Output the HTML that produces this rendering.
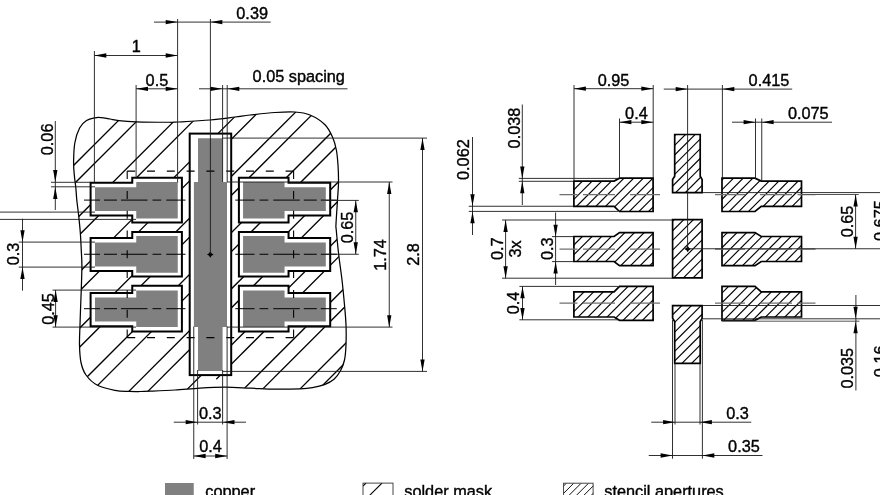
<!DOCTYPE html>
<html lang="en"><head><meta charset="utf-8"><title>Footprint: copper, solder mask, stencil apertures</title>
<style>html,body{margin:0;padding:0;background:#fff}body{width:880px;height:495px;overflow:hidden}svg{display:block}text{font-family:'Liberation Sans', sans-serif;font-size:16.3px;fill:#000;stroke:#000;stroke-width:0.4px}</style></head><body>
<svg width="880" height="495" viewBox="0 0 880 495" role="img" aria-label="Footprint drawing: copper, solder mask and stencil apertures">
<rect width="880" height="495" fill="#fff"/>
<defs><clipPath id="blob"><path d="M73.6,162C73.68,156.67 73.8,148.67 74.8,143C75.8,137.33 77.65,131.73 79.6,128C81.55,124.27 83.93,122.3 86.5,120.6C89.07,118.9 92.58,118.3 95,117.8C97.42,117.3 98.5,117.4 101,117.6C103.5,117.8 107.04,118.5 110,119C112.96,119.5 114.38,120.13 118.75,120.6C123.12,121.07 127.92,121.52 136.25,121.8C144.58,122.08 161.88,122.22 168.75,122.25C175.62,122.28 170.62,122.38 177.5,122C184.38,121.62 200.42,120.83 210,120C219.58,119.17 228.33,117.83 235,117C241.67,116.17 243.33,115.75 250,115C256.67,114.25 267.5,113 275,112.5C282.5,112 289.17,111.58 295,112C300.83,112.42 305,112.88 310,115C315,117.12 321.22,120.95 325,124.7C328.78,128.45 330.81,133.28 332.7,137.5C334.59,141.72 335.47,145.42 336.35,150C337.23,154.58 337.64,159.58 338,165C338.36,170.42 338.58,176.67 338.5,182.5C338.42,188.33 337.92,193.08 337.5,200C337.08,206.92 336.21,219 336,224C335.79,229 335.79,224.83 336.25,230C336.71,235.17 337.79,246.67 338.75,255C339.71,263.33 341.04,271.67 342,280C342.96,288.33 343.83,297.5 344.5,305C345.17,312.5 345.75,318.33 346,325C346.25,331.67 346.25,339.17 346,345C345.75,350.83 345.4,355.75 344.5,360C343.6,364.25 342.35,367.28 340.6,370.5C338.85,373.72 336.68,376.95 334,379.3C331.32,381.65 328.08,383.22 324.5,384.6C320.92,385.98 316.58,386.9 312.5,387.6C308.42,388.3 306.25,388.53 300,388.8C293.75,389.07 283.33,389.32 275,389.2C266.67,389.08 258.33,388.43 250,388.1C241.67,387.77 233.33,387.2 225,387.2C216.67,387.2 208.33,387.63 200,388.1C191.67,388.57 183.33,389.48 175,390C166.67,390.52 155.83,390.95 150,391.2C144.17,391.45 143.5,391.47 140,391.5C136.5,391.53 133.17,391.6 129,391.4C124.83,391.2 120.25,391.32 115,390.3C109.75,389.28 102.33,387.85 97.5,385.3C92.67,382.75 88.75,378.8 86,375C83.25,371.2 82.08,367.5 81,362.5C79.92,357.5 79.67,351.25 79.5,345C79.33,338.75 79.83,330.83 80,325C80.17,319.17 80.29,315.83 80.5,310C80.71,304.17 81.02,297.33 81.25,290C81.48,282.67 81.9,272.67 81.9,266C81.9,259.33 81.52,255.58 81.25,250C80.98,244.42 80.74,238.33 80.3,232.5C79.86,226.67 79.18,220.42 78.6,215C78.02,209.58 77.27,204.58 76.8,200C76.33,195.42 76.22,191.67 75.8,187.5C75.38,183.33 74.67,179.25 74.3,175C73.93,170.75 73.52,167.33 73.6,162Z"/></clipPath>
<clipPath id="s0"><polygon points="722,178.2 755,178.2 761.25,181.1 801.5,181.1 801.5,206.4 761.25,206.4 755,211.5 722,211.5"/></clipPath>
<clipPath id="s1"><polygon points="653.1,178.2 619.5,178.2 614.1,181.1 573.9,181.1 573.9,206.4 614.1,206.4 619.5,211.5 653.1,211.5"/></clipPath>
<clipPath id="s2"><polygon points="722,232.6 755,232.6 761.25,236.5 801.5,236.5 801.5,261.5 761.25,261.5 755,265.6 722,265.6"/></clipPath>
<clipPath id="s3"><polygon points="653.1,232.6 619.5,232.6 614.1,236.5 573.9,236.5 573.9,261.5 614.1,261.5 619.5,265.6 653.1,265.6"/></clipPath>
<clipPath id="s4"><polygon points="722,286.3 755,286.3 761.25,291.8 801.5,291.8 801.5,317 761.25,317 755,320.3 722,320.3"/></clipPath>
<clipPath id="s5"><polygon points="653.1,286.3 619.5,286.3 614.1,291.8 573.9,291.8 573.9,317 614.1,317 619.5,320.3 653.1,320.3"/></clipPath>
<clipPath id="s6"><polygon points="674.7,134.5 700.2,134.5 700.2,176.3 702.1,179.4 702.1,192.7 672.6,192.7 672.6,179.4 674.7,176.3"/></clipPath>
<clipPath id="s7"><polygon points="672.6,219.7 702.1,219.7 702.1,277.8 672.6,277.8"/></clipPath>
<clipPath id="s8"><polygon points="672.6,305.6 702.1,305.6 702.1,318.3 700.2,321.6 700.2,363.4 674.7,363.4 674.7,321.6 672.6,318.3"/></clipPath>
<clipPath id="lg"><rect x="563.75" y="483.6" width="29.5" height="14"/></clipPath>
<clipPath id="lg2"><rect x="363" y="483" width="30" height="14"/></clipPath>
</defs>
<g clip-path="url(#blob)" stroke="#000" stroke-width="1.25" fill="none">
<line x1="26.5" y1="100" x2="-273.5" y2="400"/>
<line x1="45.5" y1="100" x2="-254.5" y2="400"/>
<line x1="82.75" y1="100" x2="-217.25" y2="400"/>
<line x1="101.75" y1="100" x2="-198.25" y2="400"/>
<line x1="139" y1="100" x2="-161" y2="400"/>
<line x1="158" y1="100" x2="-142" y2="400"/>
<line x1="195.25" y1="100" x2="-104.75" y2="400"/>
<line x1="214.25" y1="100" x2="-85.75" y2="400"/>
<line x1="251.5" y1="100" x2="-48.5" y2="400"/>
<line x1="270.5" y1="100" x2="-29.5" y2="400"/>
<line x1="307.75" y1="100" x2="7.75" y2="400"/>
<line x1="326.75" y1="100" x2="26.75" y2="400"/>
<line x1="364" y1="100" x2="64" y2="400"/>
<line x1="383" y1="100" x2="83" y2="400"/>
<line x1="420.25" y1="100" x2="120.25" y2="400"/>
<line x1="439.25" y1="100" x2="139.25" y2="400"/>
<line x1="476.5" y1="100" x2="176.5" y2="400"/>
<line x1="495.5" y1="100" x2="195.5" y2="400"/>
<line x1="532.75" y1="100" x2="232.75" y2="400"/>
<line x1="551.75" y1="100" x2="251.75" y2="400"/>
<line x1="589" y1="100" x2="289" y2="400"/>
<line x1="608" y1="100" x2="308" y2="400"/>
<line x1="645.25" y1="100" x2="345.25" y2="400"/>
<line x1="664.25" y1="100" x2="364.25" y2="400"/>
</g>
<g clip-path="url(#blob)"><line x1="216.2" y1="379.05" x2="205" y2="390.25" stroke="#fff" stroke-width="4"/></g>
<path d="M73.6,162C73.68,156.67 73.8,148.67 74.8,143C75.8,137.33 77.65,131.73 79.6,128C81.55,124.27 83.93,122.3 86.5,120.6C89.07,118.9 92.58,118.3 95,117.8C97.42,117.3 98.5,117.4 101,117.6C103.5,117.8 107.04,118.5 110,119C112.96,119.5 114.38,120.13 118.75,120.6C123.12,121.07 127.92,121.52 136.25,121.8C144.58,122.08 161.88,122.22 168.75,122.25C175.62,122.28 170.62,122.38 177.5,122C184.38,121.62 200.42,120.83 210,120C219.58,119.17 228.33,117.83 235,117C241.67,116.17 243.33,115.75 250,115C256.67,114.25 267.5,113 275,112.5C282.5,112 289.17,111.58 295,112C300.83,112.42 305,112.88 310,115C315,117.12 321.22,120.95 325,124.7C328.78,128.45 330.81,133.28 332.7,137.5C334.59,141.72 335.47,145.42 336.35,150C337.23,154.58 337.64,159.58 338,165C338.36,170.42 338.58,176.67 338.5,182.5C338.42,188.33 337.92,193.08 337.5,200C337.08,206.92 336.21,219 336,224C335.79,229 335.79,224.83 336.25,230C336.71,235.17 337.79,246.67 338.75,255C339.71,263.33 341.04,271.67 342,280C342.96,288.33 343.83,297.5 344.5,305C345.17,312.5 345.75,318.33 346,325C346.25,331.67 346.25,339.17 346,345C345.75,350.83 345.4,355.75 344.5,360C343.6,364.25 342.35,367.28 340.6,370.5C338.85,373.72 336.68,376.95 334,379.3C331.32,381.65 328.08,383.22 324.5,384.6C320.92,385.98 316.58,386.9 312.5,387.6C308.42,388.3 306.25,388.53 300,388.8C293.75,389.07 283.33,389.32 275,389.2C266.67,389.08 258.33,388.43 250,388.1C241.67,387.77 233.33,387.2 225,387.2C216.67,387.2 208.33,387.63 200,388.1C191.67,388.57 183.33,389.48 175,390C166.67,390.52 155.83,390.95 150,391.2C144.17,391.45 143.5,391.47 140,391.5C136.5,391.53 133.17,391.6 129,391.4C124.83,391.2 120.25,391.32 115,390.3C109.75,389.28 102.33,387.85 97.5,385.3C92.67,382.75 88.75,378.8 86,375C83.25,371.2 82.08,367.5 81,362.5C79.92,357.5 79.67,351.25 79.5,345C79.33,338.75 79.83,330.83 80,325C80.17,319.17 80.29,315.83 80.5,310C80.71,304.17 81.02,297.33 81.25,290C81.48,282.67 81.9,272.67 81.9,266C81.9,259.33 81.52,255.58 81.25,250C80.98,244.42 80.74,238.33 80.3,232.5C79.86,226.67 79.18,220.42 78.6,215C78.02,209.58 77.27,204.58 76.8,200C76.33,195.42 76.22,191.67 75.8,187.5C75.38,183.33 74.67,179.25 74.3,175C73.93,170.75 73.52,167.33 73.6,162Z" fill="none" stroke="#000" stroke-width="1.25"/>
<g fill="#fff" stroke="#000" stroke-width="2" stroke-linejoin="miter">
<polygon points="90.6,182.7 132.25,182.7 132.25,177.7 181.9,177.7 181.9,222.4 132.25,222.4 132.25,215.6 90.6,215.6"/>
<polygon points="330.2,182.7 288.55,182.7 288.55,177.7 238.9,177.7 238.9,222.4 288.55,222.4 288.55,215.6 330.2,215.6"/>
<polygon points="90.6,238 132.25,238 132.25,232.1 181.9,232.1 181.9,276.5 132.25,276.5 132.25,270.9 90.6,270.9"/>
<polygon points="330.2,238 288.55,238 288.55,232.1 238.9,232.1 238.9,276.5 288.55,276.5 288.55,270.9 330.2,270.9"/>
<polygon points="90.6,292.9 132.25,292.9 132.25,285.8 181.9,285.8 181.9,331.6 132.25,331.6 132.25,326.3 90.6,326.3"/>
<polygon points="330.2,292.9 288.55,292.9 288.55,285.8 238.9,285.8 238.9,331.6 288.55,331.6 288.55,326.3 330.2,326.3"/>
<rect x="189.7" y="133.6" width="41.5" height="241.5"/>
</g>
<g fill="#808080">
<polygon points="95,187.25 136.25,187.25 136.25,182.1 177.75,182.1 177.75,218.6 136.25,218.6 136.25,211.1 95,211.1"/>
<polygon points="325.8,187.25 284.55,187.25 284.55,182.1 243.05,182.1 243.05,218.6 284.55,218.6 284.55,211.1 325.8,211.1"/>
<polygon points="95,242.5 136.25,242.5 136.25,236.1 177.75,236.1 177.75,272.75 136.25,272.75 136.25,266.5 95,266.5"/>
<polygon points="325.8,242.5 284.55,242.5 284.55,236.1 243.05,236.1 243.05,272.75 284.55,272.75 284.55,266.5 325.8,266.5"/>
<polygon points="95,297.6 136.25,297.6 136.25,290.5 177.75,290.5 177.75,327.1 136.25,327.1 136.25,321.5 95,321.5"/>
<polygon points="325.8,297.6 284.55,297.6 284.55,290.5 243.05,290.5 243.05,327.1 284.55,327.1 284.55,321.5 325.8,321.5"/>
<polygon points="198,138.3 222.6,138.3 222.6,182 227,182 227,327 222.6,327 222.6,371 198,371 198,327 193.9,327 193.9,182 198,182"/>
</g>
<line x1="127.2" y1="171.1" x2="293.6" y2="171.1" stroke="#000" stroke-width="1.1" stroke-dasharray="8 11.8"/>
<line x1="127.2" y1="337.6" x2="293.6" y2="337.6" stroke="#000" stroke-width="1.1" stroke-dasharray="8 11.8"/>
<line x1="127.2" y1="171.1" x2="127.2" y2="337.6" stroke="#000" stroke-width="1.1" stroke-dasharray="8 11.8"/>
<line x1="293.6" y1="171.1" x2="293.6" y2="337.6" stroke="#000" stroke-width="1.1" stroke-dasharray="8 11.8"/>
<line x1="84" y1="200.1" x2="185.5" y2="200.1" stroke="#000" stroke-width="1" stroke-dasharray="16 4 13 4 26.5 5 8.75 5 19.5"/>
<line x1="336.8" y1="200.1" x2="235.3" y2="200.1" stroke="#000" stroke-width="1" stroke-dasharray="16 4 13 4 26.5 5 8.75 5 19.5"/>
<line x1="84" y1="254.25" x2="185.5" y2="254.25" stroke="#000" stroke-width="1" stroke-dasharray="16 4 13 4 26.5 5 8.75 5 19.5"/>
<line x1="336.8" y1="254.25" x2="235.3" y2="254.25" stroke="#000" stroke-width="1" stroke-dasharray="16 4 13 4 26.5 5 8.75 5 19.5"/>
<line x1="84" y1="308.7" x2="185.5" y2="308.7" stroke="#000" stroke-width="1" stroke-dasharray="16 4 13 4 26.5 5 8.75 5 19.5"/>
<line x1="336.8" y1="308.7" x2="235.3" y2="308.7" stroke="#000" stroke-width="1" stroke-dasharray="16 4 13 4 26.5 5 8.75 5 19.5"/>
<polygon points="210.3,251.15 211.55,253.2 213.6,254.45 211.55,255.7 210.3,257.75 209.05,255.7 207,254.45 209.05,253.2" fill="#000" stroke="none" stroke-width="0"/>
<line x1="177.6" y1="19" x2="177.6" y2="182.5" stroke="#1a1a1a" stroke-width="0.9"/>
<line x1="210.4" y1="19" x2="210.4" y2="254.25" stroke="#1a1a1a" stroke-width="0.9"/>
<line x1="154" y1="22.1" x2="270.6" y2="22.1" stroke="#1a1a1a" stroke-width="0.9"/>
<polygon points="177.6,22.1 165.7,19.95 165.7,24.25" fill="#000"/>
<polygon points="210.4,22.1 222.3,19.95 222.3,24.25" fill="#000"/>
<line x1="94.4" y1="51" x2="94.4" y2="182.5" stroke="#1a1a1a" stroke-width="0.9"/>
<line x1="94.4" y1="55.5" x2="177.6" y2="55.5" stroke="#1a1a1a" stroke-width="0.9"/>
<polygon points="94.4,55.5 106.3,53.35 106.3,57.65" fill="#000"/>
<polygon points="177.6,55.5 165.7,53.35 165.7,57.65" fill="#000"/>
<line x1="136.1" y1="85" x2="136.1" y2="178" stroke="#1a1a1a" stroke-width="0.9"/>
<line x1="136.1" y1="88.8" x2="177.6" y2="88.8" stroke="#1a1a1a" stroke-width="0.9"/>
<polygon points="136.1,88.8 148,86.65 148,90.95" fill="#000"/>
<polygon points="177.6,88.8 165.7,86.65 165.7,90.95" fill="#000"/>
<line x1="222.6" y1="85" x2="222.6" y2="182" stroke="#1a1a1a" stroke-width="0.9"/>
<line x1="227.2" y1="85" x2="227.2" y2="182" stroke="#1a1a1a" stroke-width="0.9"/>
<line x1="199" y1="88.8" x2="347.5" y2="88.8" stroke="#1a1a1a" stroke-width="0.9"/>
<polygon points="222.4,88.8 210.5,86.65 210.5,90.95" fill="#000"/>
<polygon points="227.4,88.8 239.3,86.65 239.3,90.95" fill="#000"/>
<line x1="55.3" y1="121" x2="55.3" y2="210" stroke="#1a1a1a" stroke-width="0.9"/>
<line x1="51" y1="182.3" x2="90.6" y2="182.3" stroke="#1a1a1a" stroke-width="0.9"/>
<line x1="51" y1="186.8" x2="95" y2="186.8" stroke="#1a1a1a" stroke-width="0.9"/>
<polygon points="55.3,182 53.15,170.1 57.45,170.1" fill="#000"/>
<polygon points="55.3,187 53.15,198.9 57.45,198.9" fill="#000"/>
<line x1="0" y1="212.1" x2="95" y2="212.1" stroke="#1a1a1a" stroke-width="0.9"/>
<line x1="0" y1="219.4" x2="136" y2="219.4" stroke="#1a1a1a" stroke-width="0.9"/>
<line x1="22.5" y1="218.75" x2="22.5" y2="290.6" stroke="#1a1a1a" stroke-width="0.9"/>
<line x1="18.75" y1="242.1" x2="95" y2="242.1" stroke="#1a1a1a" stroke-width="0.9"/>
<line x1="18.75" y1="267.1" x2="95" y2="267.1" stroke="#1a1a1a" stroke-width="0.9"/>
<polygon points="22.5,242.1 20.35,230.2 24.65,230.2" fill="#000"/>
<polygon points="22.5,267.1 20.35,279 24.65,279" fill="#000"/>
<line x1="55.6" y1="290" x2="55.6" y2="327.1" stroke="#1a1a1a" stroke-width="0.9"/>
<line x1="52.5" y1="290.1" x2="136" y2="290.1" stroke="#1a1a1a" stroke-width="0.9"/>
<line x1="52.5" y1="327.1" x2="136" y2="327.1" stroke="#1a1a1a" stroke-width="0.9"/>
<polygon points="55.6,290.1 53.45,302 57.75,302" fill="#000"/>
<polygon points="55.6,327.1 53.45,315.2 57.75,315.2" fill="#000"/>
<line x1="326" y1="200.4" x2="358.75" y2="200.4" stroke="#1a1a1a" stroke-width="0.9"/>
<line x1="326" y1="254.25" x2="358.75" y2="254.25" stroke="#1a1a1a" stroke-width="0.9"/>
<line x1="355.75" y1="200.4" x2="355.75" y2="254.25" stroke="#1a1a1a" stroke-width="0.9"/>
<polygon points="355.75,200.4 353.6,212.3 357.9,212.3" fill="#000"/>
<polygon points="355.75,254.25 353.6,242.35 357.9,242.35" fill="#000"/>
<line x1="227" y1="182" x2="392.5" y2="182" stroke="#1a1a1a" stroke-width="0.9"/>
<line x1="227" y1="327.1" x2="392.5" y2="327.1" stroke="#1a1a1a" stroke-width="0.9"/>
<line x1="389.25" y1="182" x2="389.25" y2="327.1" stroke="#1a1a1a" stroke-width="0.9"/>
<polygon points="389.25,182 387.1,193.9 391.4,193.9" fill="#000"/>
<polygon points="389.25,327.1 387.1,315.2 391.4,315.2" fill="#000"/>
<line x1="222.6" y1="138.1" x2="427" y2="138.1" stroke="#1a1a1a" stroke-width="0.9"/>
<line x1="222.6" y1="371.4" x2="427" y2="371.4" stroke="#1a1a1a" stroke-width="0.9"/>
<line x1="422.5" y1="138.1" x2="422.5" y2="371.4" stroke="#1a1a1a" stroke-width="0.9"/>
<polygon points="422.5,138.1 420.35,150 424.65,150" fill="#000"/>
<polygon points="422.5,371.4 420.35,359.5 424.65,359.5" fill="#000"/>
<line x1="197.6" y1="370" x2="197.6" y2="424.5" stroke="#1a1a1a" stroke-width="0.9"/>
<line x1="222.6" y1="370" x2="222.6" y2="424.5" stroke="#1a1a1a" stroke-width="0.9"/>
<line x1="173.75" y1="422.2" x2="246" y2="422.2" stroke="#1a1a1a" stroke-width="0.9"/>
<polygon points="197.6,422.2 185.7,420.05 185.7,424.35" fill="#000"/>
<polygon points="222.6,422.2 234.5,420.05 234.5,424.35" fill="#000"/>
<line x1="193.75" y1="326.6" x2="193.75" y2="459" stroke="#1a1a1a" stroke-width="0.9"/>
<line x1="227.1" y1="326.6" x2="227.1" y2="459" stroke="#1a1a1a" stroke-width="0.9"/>
<line x1="193.75" y1="456" x2="227.1" y2="456" stroke="#1a1a1a" stroke-width="0.9"/>
<polygon points="193.75,456 205.65,453.85 205.65,458.15" fill="#000"/>
<polygon points="227.1,456 215.2,453.85 215.2,458.15" fill="#000"/>
<g clip-path="url(#s0)" stroke="#000" stroke-width="1.15">
<line x1="706.55" y1="176.2" x2="669.25" y2="213.5"/>
<line x1="716.2" y1="176.2" x2="678.9" y2="213.5"/>
<line x1="725.85" y1="176.2" x2="688.55" y2="213.5"/>
<line x1="735.5" y1="176.2" x2="698.2" y2="213.5"/>
<line x1="745.15" y1="176.2" x2="707.85" y2="213.5"/>
<line x1="754.8" y1="176.2" x2="717.5" y2="213.5"/>
<line x1="764.45" y1="176.2" x2="727.15" y2="213.5"/>
<line x1="774.1" y1="176.2" x2="736.8" y2="213.5"/>
<line x1="783.75" y1="176.2" x2="746.45" y2="213.5"/>
<line x1="793.4" y1="176.2" x2="756.1" y2="213.5"/>
<line x1="803.05" y1="176.2" x2="765.75" y2="213.5"/>
<line x1="812.7" y1="176.2" x2="775.4" y2="213.5"/>
<line x1="822.35" y1="176.2" x2="785.05" y2="213.5"/>
<line x1="832" y1="176.2" x2="794.7" y2="213.5"/>
<line x1="841.65" y1="176.2" x2="804.35" y2="213.5"/>
</g>
<polygon points="722,178.2 755,178.2 761.25,181.1 801.5,181.1 801.5,206.4 761.25,206.4 755,211.5 722,211.5" fill="none" stroke="#000" stroke-width="1.7" stroke-linejoin="miter"/>
<g clip-path="url(#s1)" stroke="#000" stroke-width="1.15">
<line x1="558.45" y1="176.2" x2="521.15" y2="213.5"/>
<line x1="568.1" y1="176.2" x2="530.8" y2="213.5"/>
<line x1="577.75" y1="176.2" x2="540.45" y2="213.5"/>
<line x1="587.4" y1="176.2" x2="550.1" y2="213.5"/>
<line x1="597.05" y1="176.2" x2="559.75" y2="213.5"/>
<line x1="606.7" y1="176.2" x2="569.4" y2="213.5"/>
<line x1="616.35" y1="176.2" x2="579.05" y2="213.5"/>
<line x1="626" y1="176.2" x2="588.7" y2="213.5"/>
<line x1="635.65" y1="176.2" x2="598.35" y2="213.5"/>
<line x1="645.3" y1="176.2" x2="608" y2="213.5"/>
<line x1="654.95" y1="176.2" x2="617.65" y2="213.5"/>
<line x1="664.6" y1="176.2" x2="627.3" y2="213.5"/>
<line x1="674.25" y1="176.2" x2="636.95" y2="213.5"/>
<line x1="683.9" y1="176.2" x2="646.6" y2="213.5"/>
<line x1="693.55" y1="176.2" x2="656.25" y2="213.5"/>
</g>
<polygon points="653.1,178.2 619.5,178.2 614.1,181.1 573.9,181.1 573.9,206.4 614.1,206.4 619.5,211.5 653.1,211.5" fill="none" stroke="#000" stroke-width="1.7" stroke-linejoin="miter"/>
<g clip-path="url(#s2)" stroke="#000" stroke-width="1.15">
<line x1="710.05" y1="230.6" x2="673.05" y2="267.6"/>
<line x1="719.7" y1="230.6" x2="682.7" y2="267.6"/>
<line x1="729.35" y1="230.6" x2="692.35" y2="267.6"/>
<line x1="739" y1="230.6" x2="702" y2="267.6"/>
<line x1="748.65" y1="230.6" x2="711.65" y2="267.6"/>
<line x1="758.3" y1="230.6" x2="721.3" y2="267.6"/>
<line x1="767.95" y1="230.6" x2="730.95" y2="267.6"/>
<line x1="777.6" y1="230.6" x2="740.6" y2="267.6"/>
<line x1="787.25" y1="230.6" x2="750.25" y2="267.6"/>
<line x1="796.9" y1="230.6" x2="759.9" y2="267.6"/>
<line x1="806.55" y1="230.6" x2="769.55" y2="267.6"/>
<line x1="816.2" y1="230.6" x2="779.2" y2="267.6"/>
<line x1="825.85" y1="230.6" x2="788.85" y2="267.6"/>
<line x1="835.5" y1="230.6" x2="798.5" y2="267.6"/>
<line x1="845.15" y1="230.6" x2="808.15" y2="267.6"/>
</g>
<polygon points="722,232.6 755,232.6 761.25,236.5 801.5,236.5 801.5,261.5 761.25,261.5 755,265.6 722,265.6" fill="none" stroke="#000" stroke-width="1.7" stroke-linejoin="miter"/>
<g clip-path="url(#s3)" stroke="#000" stroke-width="1.15">
<line x1="559.35" y1="230.6" x2="522.35" y2="267.6"/>
<line x1="569" y1="230.6" x2="532" y2="267.6"/>
<line x1="578.65" y1="230.6" x2="541.65" y2="267.6"/>
<line x1="588.3" y1="230.6" x2="551.3" y2="267.6"/>
<line x1="597.95" y1="230.6" x2="560.95" y2="267.6"/>
<line x1="607.6" y1="230.6" x2="570.6" y2="267.6"/>
<line x1="617.25" y1="230.6" x2="580.25" y2="267.6"/>
<line x1="626.9" y1="230.6" x2="589.9" y2="267.6"/>
<line x1="636.55" y1="230.6" x2="599.55" y2="267.6"/>
<line x1="646.2" y1="230.6" x2="609.2" y2="267.6"/>
<line x1="655.85" y1="230.6" x2="618.85" y2="267.6"/>
<line x1="665.5" y1="230.6" x2="628.5" y2="267.6"/>
<line x1="675.15" y1="230.6" x2="638.15" y2="267.6"/>
<line x1="684.8" y1="230.6" x2="647.8" y2="267.6"/>
<line x1="694.45" y1="230.6" x2="657.45" y2="267.6"/>
</g>
<polygon points="653.1,232.6 619.5,232.6 614.1,236.5 573.9,236.5 573.9,261.5 614.1,261.5 619.5,265.6 653.1,265.6" fill="none" stroke="#000" stroke-width="1.7" stroke-linejoin="miter"/>
<g clip-path="url(#s4)" stroke="#000" stroke-width="1.15">
<line x1="711.4" y1="284.3" x2="673.4" y2="322.3"/>
<line x1="721.05" y1="284.3" x2="683.05" y2="322.3"/>
<line x1="730.7" y1="284.3" x2="692.7" y2="322.3"/>
<line x1="740.35" y1="284.3" x2="702.35" y2="322.3"/>
<line x1="750" y1="284.3" x2="712" y2="322.3"/>
<line x1="759.65" y1="284.3" x2="721.65" y2="322.3"/>
<line x1="769.3" y1="284.3" x2="731.3" y2="322.3"/>
<line x1="778.95" y1="284.3" x2="740.95" y2="322.3"/>
<line x1="788.6" y1="284.3" x2="750.6" y2="322.3"/>
<line x1="798.25" y1="284.3" x2="760.25" y2="322.3"/>
<line x1="807.9" y1="284.3" x2="769.9" y2="322.3"/>
<line x1="817.55" y1="284.3" x2="779.55" y2="322.3"/>
<line x1="827.2" y1="284.3" x2="789.2" y2="322.3"/>
<line x1="836.85" y1="284.3" x2="798.85" y2="322.3"/>
<line x1="846.5" y1="284.3" x2="808.5" y2="322.3"/>
</g>
<polygon points="722,286.3 755,286.3 761.25,291.8 801.5,291.8 801.5,317 761.25,317 755,320.3 722,320.3" fill="none" stroke="#000" stroke-width="1.7" stroke-linejoin="miter"/>
<g clip-path="url(#s5)" stroke="#000" stroke-width="1.15">
<line x1="562.65" y1="284.3" x2="524.65" y2="322.3"/>
<line x1="572.3" y1="284.3" x2="534.3" y2="322.3"/>
<line x1="581.95" y1="284.3" x2="543.95" y2="322.3"/>
<line x1="591.6" y1="284.3" x2="553.6" y2="322.3"/>
<line x1="601.25" y1="284.3" x2="563.25" y2="322.3"/>
<line x1="610.9" y1="284.3" x2="572.9" y2="322.3"/>
<line x1="620.55" y1="284.3" x2="582.55" y2="322.3"/>
<line x1="630.2" y1="284.3" x2="592.2" y2="322.3"/>
<line x1="639.85" y1="284.3" x2="601.85" y2="322.3"/>
<line x1="649.5" y1="284.3" x2="611.5" y2="322.3"/>
<line x1="659.15" y1="284.3" x2="621.15" y2="322.3"/>
<line x1="668.8" y1="284.3" x2="630.8" y2="322.3"/>
<line x1="678.45" y1="284.3" x2="640.45" y2="322.3"/>
<line x1="688.1" y1="284.3" x2="650.1" y2="322.3"/>
<line x1="697.75" y1="284.3" x2="659.75" y2="322.3"/>
</g>
<polygon points="653.1,286.3 619.5,286.3 614.1,291.8 573.9,291.8 573.9,317 614.1,317 619.5,320.3 653.1,320.3" fill="none" stroke="#000" stroke-width="1.7" stroke-linejoin="miter"/>
<g clip-path="url(#s6)" stroke="#000" stroke-width="1.15">
<line x1="658.55" y1="132.5" x2="596.35" y2="194.7"/>
<line x1="668.2" y1="132.5" x2="606" y2="194.7"/>
<line x1="677.85" y1="132.5" x2="615.65" y2="194.7"/>
<line x1="687.5" y1="132.5" x2="625.3" y2="194.7"/>
<line x1="697.15" y1="132.5" x2="634.95" y2="194.7"/>
<line x1="706.8" y1="132.5" x2="644.6" y2="194.7"/>
<line x1="716.45" y1="132.5" x2="654.25" y2="194.7"/>
<line x1="726.1" y1="132.5" x2="663.9" y2="194.7"/>
<line x1="735.75" y1="132.5" x2="673.55" y2="194.7"/>
<line x1="745.4" y1="132.5" x2="683.2" y2="194.7"/>
<line x1="755.05" y1="132.5" x2="692.85" y2="194.7"/>
<line x1="764.7" y1="132.5" x2="702.5" y2="194.7"/>
</g>
<polygon points="674.7,134.5 700.2,134.5 700.2,176.3 702.1,179.4 702.1,192.7 672.6,192.7 672.6,179.4 674.7,176.3" fill="none" stroke="#000" stroke-width="1.7" stroke-linejoin="miter"/>
<g clip-path="url(#s7)" stroke="#000" stroke-width="1.15">
<line x1="656.75" y1="217.7" x2="594.65" y2="279.8"/>
<line x1="666.4" y1="217.7" x2="604.3" y2="279.8"/>
<line x1="676.05" y1="217.7" x2="613.95" y2="279.8"/>
<line x1="685.7" y1="217.7" x2="623.6" y2="279.8"/>
<line x1="695.35" y1="217.7" x2="633.25" y2="279.8"/>
<line x1="705" y1="217.7" x2="642.9" y2="279.8"/>
<line x1="714.65" y1="217.7" x2="652.55" y2="279.8"/>
<line x1="724.3" y1="217.7" x2="662.2" y2="279.8"/>
<line x1="733.95" y1="217.7" x2="671.85" y2="279.8"/>
<line x1="743.6" y1="217.7" x2="681.5" y2="279.8"/>
<line x1="753.25" y1="217.7" x2="691.15" y2="279.8"/>
<line x1="762.9" y1="217.7" x2="700.8" y2="279.8"/>
</g>
<polygon points="672.6,219.7 702.1,219.7 702.1,277.8 672.6,277.8" fill="none" stroke="#000" stroke-width="1.7" stroke-linejoin="miter"/>
<g clip-path="url(#s8)" stroke="#000" stroke-width="1.15">
<line x1="664.5" y1="303.6" x2="602.7" y2="365.4"/>
<line x1="674.15" y1="303.6" x2="612.35" y2="365.4"/>
<line x1="683.8" y1="303.6" x2="622" y2="365.4"/>
<line x1="693.45" y1="303.6" x2="631.65" y2="365.4"/>
<line x1="703.1" y1="303.6" x2="641.3" y2="365.4"/>
<line x1="712.75" y1="303.6" x2="650.95" y2="365.4"/>
<line x1="722.4" y1="303.6" x2="660.6" y2="365.4"/>
<line x1="732.05" y1="303.6" x2="670.25" y2="365.4"/>
<line x1="741.7" y1="303.6" x2="679.9" y2="365.4"/>
<line x1="751.35" y1="303.6" x2="689.55" y2="365.4"/>
<line x1="761" y1="303.6" x2="699.2" y2="365.4"/>
<line x1="770.65" y1="303.6" x2="708.85" y2="365.4"/>
</g>
<polygon points="672.6,305.6 702.1,305.6 702.1,318.3 700.2,321.6 700.2,363.4 674.7,363.4 674.7,321.6 672.6,318.3" fill="none" stroke="#000" stroke-width="1.7" stroke-linejoin="miter"/>
<line x1="559.5" y1="194.7" x2="660" y2="194.7" stroke="#707070" stroke-width="1.3" stroke-dasharray="18 5.5 32 15 30"/>
<line x1="815.5" y1="194.7" x2="715" y2="194.7" stroke="#707070" stroke-width="1.3" stroke-dasharray="18 5.5 32 15 30"/>
<line x1="559.5" y1="249.1" x2="660" y2="249.1" stroke="#707070" stroke-width="1.3" stroke-dasharray="18 5.5 32 15 30"/>
<line x1="815.5" y1="249.1" x2="715" y2="249.1" stroke="#707070" stroke-width="1.3" stroke-dasharray="18 5.5 32 15 30"/>
<line x1="559.5" y1="303.2" x2="660" y2="303.2" stroke="#707070" stroke-width="1.3" stroke-dasharray="18 5.5 32 15 30"/>
<line x1="815.5" y1="303.2" x2="715" y2="303.2" stroke="#707070" stroke-width="1.3" stroke-dasharray="18 5.5 32 15 30"/>
<polygon points="687.7,245.75 688.95,247.8 691,249.05 688.95,250.3 687.7,252.35 686.45,250.3 684.4,249.05 686.45,247.8" fill="#000" stroke="none" stroke-width="0"/>
<line x1="574" y1="85" x2="574" y2="181.3" stroke="#1a1a1a" stroke-width="0.9"/>
<line x1="653.2" y1="85" x2="653.2" y2="178.2" stroke="#1a1a1a" stroke-width="0.9"/>
<line x1="574" y1="88.7" x2="653.2" y2="88.7" stroke="#1a1a1a" stroke-width="0.9"/>
<polygon points="574,88.7 585.9,86.55 585.9,90.85" fill="#000"/>
<polygon points="653.2,88.7 641.3,86.55 641.3,90.85" fill="#000"/>
<line x1="619.5" y1="118.5" x2="619.5" y2="178.2" stroke="#1a1a1a" stroke-width="0.9"/>
<line x1="619.5" y1="122.2" x2="653.2" y2="122.2" stroke="#1a1a1a" stroke-width="0.9"/>
<polygon points="619.5,122.2 631.4,120.05 631.4,124.35" fill="#000"/>
<polygon points="653.2,122.2 641.3,120.05 641.3,124.35" fill="#000"/>
<line x1="687.6" y1="85" x2="687.6" y2="248.75" stroke="#1a1a1a" stroke-width="0.9"/>
<line x1="722.4" y1="85" x2="722.4" y2="178.2" stroke="#1a1a1a" stroke-width="0.9"/>
<line x1="663.75" y1="89.1" x2="792.2" y2="89.1" stroke="#1a1a1a" stroke-width="0.9"/>
<polygon points="687.6,89.1 675.7,86.95 675.7,91.25" fill="#000"/>
<polygon points="722.4,89.1 734.3,86.95 734.3,91.25" fill="#000"/>
<line x1="755.5" y1="118.5" x2="755.5" y2="179" stroke="#1a1a1a" stroke-width="0.9"/>
<line x1="761.75" y1="118.5" x2="761.75" y2="181.3" stroke="#1a1a1a" stroke-width="0.9"/>
<line x1="732" y1="122.2" x2="832" y2="122.2" stroke="#1a1a1a" stroke-width="0.9"/>
<polygon points="755.5,122.2 743.6,120.05 743.6,124.35" fill="#000"/>
<polygon points="761.75,122.2 773.65,120.05 773.65,124.35" fill="#000"/>
<line x1="472.5" y1="137" x2="472.5" y2="235" stroke="#1a1a1a" stroke-width="0.9"/>
<line x1="468.75" y1="206.25" x2="573.3" y2="206.25" stroke="#1a1a1a" stroke-width="0.9"/>
<line x1="468.75" y1="211.4" x2="618" y2="211.4" stroke="#1a1a1a" stroke-width="0.9"/>
<polygon points="472.5,206.25 470.35,194.35 474.65,194.35" fill="#000"/>
<polygon points="472.5,211.4 470.35,223.3 474.65,223.3" fill="#000"/>
<line x1="522.3" y1="104.5" x2="522.3" y2="205" stroke="#1a1a1a" stroke-width="0.9"/>
<line x1="518.75" y1="178.4" x2="619" y2="178.4" stroke="#1a1a1a" stroke-width="0.9"/>
<line x1="518.75" y1="181.3" x2="573.3" y2="181.3" stroke="#1a1a1a" stroke-width="0.9"/>
<polygon points="522.3,178.4 520.15,166.5 524.45,166.5" fill="#000"/>
<polygon points="522.3,181.3 520.15,193.2 524.45,193.2" fill="#000"/>
<line x1="502" y1="220" x2="672.6" y2="220" stroke="#1a1a1a" stroke-width="0.9"/>
<line x1="502" y1="278.2" x2="672.6" y2="278.2" stroke="#1a1a1a" stroke-width="0.9"/>
<line x1="505.6" y1="220" x2="505.6" y2="278.2" stroke="#1a1a1a" stroke-width="0.9"/>
<polygon points="505.6,220 503.45,231.9 507.75,231.9" fill="#000"/>
<polygon points="505.6,278.2 503.45,266.3 507.75,266.3" fill="#000"/>
<line x1="555.6" y1="212.5" x2="555.6" y2="285" stroke="#1a1a1a" stroke-width="0.9"/>
<line x1="552" y1="236.6" x2="573.6" y2="236.6" stroke="#1a1a1a" stroke-width="0.9"/>
<line x1="552" y1="261.6" x2="573.6" y2="261.6" stroke="#1a1a1a" stroke-width="0.9"/>
<polygon points="555.6,236.6 553.45,224.7 557.75,224.7" fill="#000"/>
<polygon points="555.6,261.6 553.45,273.5 557.75,273.5" fill="#000"/>
<line x1="519.4" y1="286.4" x2="618" y2="286.4" stroke="#1a1a1a" stroke-width="0.9"/>
<line x1="519.4" y1="319.8" x2="618" y2="319.8" stroke="#1a1a1a" stroke-width="0.9"/>
<line x1="522.5" y1="286.4" x2="522.5" y2="319.8" stroke="#1a1a1a" stroke-width="0.9"/>
<polygon points="522.5,286.4 520.35,298.3 524.65,298.3" fill="#000"/>
<polygon points="522.5,319.8 520.35,307.9 524.65,307.9" fill="#000"/>
<line x1="702.1" y1="192.6" x2="880" y2="192.6" stroke="#1a1a1a" stroke-width="0.9"/>
<line x1="802" y1="194.5" x2="858.75" y2="194.5" stroke="#555" stroke-width="1"/>
<line x1="687" y1="248.75" x2="880" y2="248.75" stroke="#1a1a1a" stroke-width="0.9"/>
<line x1="855.6" y1="194.5" x2="855.6" y2="248.75" stroke="#1a1a1a" stroke-width="0.9"/>
<polygon points="855.6,194.5 853.45,206.4 857.75,206.4" fill="#000"/>
<polygon points="855.6,248.75 853.45,236.85 857.75,236.85" fill="#000"/>
<line x1="702.1" y1="305.5" x2="880" y2="305.5" stroke="#1a1a1a" stroke-width="0.9"/>
<line x1="702.1" y1="318.8" x2="880" y2="318.8" stroke="#1a1a1a" stroke-width="0.9"/>
<line x1="722" y1="321.2" x2="859.4" y2="321.2" stroke="#555" stroke-width="1"/>
<line x1="855.9" y1="295" x2="855.9" y2="390.5" stroke="#1a1a1a" stroke-width="0.9"/>
<polygon points="855.6,318.6 853.45,306.7 857.75,306.7" fill="#000"/>
<polygon points="855.6,321.4 853.45,333.3 857.75,333.3" fill="#000"/>
<line x1="675" y1="363.3" x2="675" y2="424.5" stroke="#1a1a1a" stroke-width="0.9"/>
<line x1="700" y1="363.3" x2="700" y2="424.5" stroke="#1a1a1a" stroke-width="0.9"/>
<line x1="651.25" y1="422.2" x2="751.25" y2="422.2" stroke="#1a1a1a" stroke-width="0.9"/>
<polygon points="675,422.2 663.1,420.05 663.1,424.35" fill="#000"/>
<polygon points="700,422.2 711.9,420.05 711.9,424.35" fill="#000"/>
<line x1="672.5" y1="320" x2="672.5" y2="458.75" stroke="#1a1a1a" stroke-width="0.9"/>
<line x1="702.4" y1="320" x2="702.4" y2="458.75" stroke="#1a1a1a" stroke-width="0.9"/>
<line x1="648.75" y1="455.5" x2="762.5" y2="455.5" stroke="#1a1a1a" stroke-width="0.9"/>
<polygon points="672.5,455.5 660.6,453.35 660.6,457.65" fill="#000"/>
<polygon points="702.4,455.5 714.3,453.35 714.3,457.65" fill="#000"/>
<rect x="165" y="483" width="28.75" height="14" fill="#808080"/>
<g clip-path="url(#lg2)" stroke="#000" stroke-width="1.1"><line x1="382" y1="483" x2="366" y2="499"/><line x1="366" y1="483" x2="363" y2="486"/></g>
<rect x="363" y="483.1" width="30" height="14" fill="none" stroke="#333" stroke-width="0.9"/>
<g clip-path="url(#lg)" stroke="#111" stroke-width="1">
<line x1="545.35" y1="482" x2="527.35" y2="500"/>
<line x1="552.75" y1="482" x2="534.75" y2="500"/>
<line x1="560.15" y1="482" x2="542.15" y2="500"/>
<line x1="567.55" y1="482" x2="549.55" y2="500"/>
<line x1="574.95" y1="482" x2="556.95" y2="500"/>
<line x1="582.35" y1="482" x2="564.35" y2="500"/>
<line x1="589.75" y1="482" x2="571.75" y2="500"/>
<line x1="597.15" y1="482" x2="579.15" y2="500"/>
<line x1="604.55" y1="482" x2="586.55" y2="500"/>
</g>
<rect x="563.6" y="483.2" width="29.5" height="14" fill="none" stroke="#333" stroke-width="0.9"/>
<g opacity="0.999">
<text x="236.3" y="19" text-anchor="start">0.39</text>
<text x="136.4" y="52.2" text-anchor="middle">1</text>
<text x="156.9" y="85.7" text-anchor="middle">0.5</text>
<text x="252.6" y="81.7" text-anchor="start">0.05 spacing</text>
<text transform="translate(52.6,139.4) rotate(-90)" text-anchor="middle">0.06</text>
<text transform="translate(19.3,253.9) rotate(-90)" text-anchor="middle">0.3</text>
<text transform="translate(53.7,309) rotate(-90)" text-anchor="middle">0.45</text>
<text transform="translate(352.6,227.5) rotate(-90)" text-anchor="middle">0.65</text>
<text transform="translate(386,255) rotate(-90)" text-anchor="middle">1.74</text>
<text transform="translate(419,254.5) rotate(-90)" text-anchor="middle">2.8</text>
<text x="210.3" y="418.9" text-anchor="middle">0.3</text>
<text x="210.6" y="452.2" text-anchor="middle">0.4</text>
<text x="613.6" y="85.8" text-anchor="middle">0.95</text>
<text x="636.4" y="119.2" text-anchor="middle">0.4</text>
<text x="748.6" y="85.6" text-anchor="start">0.415</text>
<text x="787.9" y="119.1" text-anchor="start">0.075</text>
<text transform="translate(469.2,159.6) rotate(-90)" text-anchor="middle">0.062</text>
<text transform="translate(519.5,128) rotate(-90)" text-anchor="middle">0.038</text>
<text transform="translate(502.5,248.7) rotate(-90)" text-anchor="middle">0.7</text>
<text transform="translate(521.2,249) rotate(-90)" text-anchor="middle">3x</text>
<text transform="translate(552.5,248.7) rotate(-90)" text-anchor="middle">0.3</text>
<text transform="translate(519.4,303) rotate(-90)" text-anchor="middle">0.4</text>
<text transform="translate(852.5,221.5) rotate(-90)" text-anchor="middle">0.65</text>
<text transform="translate(886.4,220.6) rotate(-90)" text-anchor="middle">0.675</text>
<text transform="translate(853,368.2) rotate(-90)" text-anchor="middle">0.035</text>
<text transform="translate(886.4,361.3) rotate(-90)" text-anchor="middle">0.16</text>
<text x="726.2" y="418.9" text-anchor="start">0.3</text>
<text x="728.1" y="451.9" text-anchor="start">0.35</text>
<text x="205.3" y="497.1" text-anchor="start">copper</text>
<text x="404.3" y="497.1" text-anchor="start">solder mask</text>
<text x="604.3" y="497.1" text-anchor="start">stencil apertures</text>
</g>
</svg></body></html>
